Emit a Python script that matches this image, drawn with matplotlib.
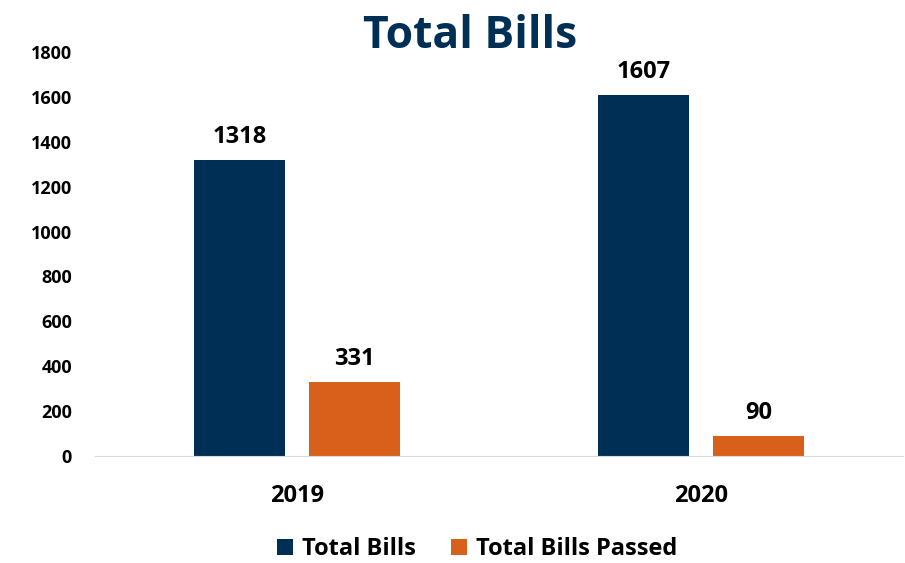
import numpy as np
import matplotlib.pyplot as plt

# Chart data
years = ["2019", "2020"]
total_bills = [1318, 1607]
bills_passed = [331, 90]

navy = "#002F56"
orange = "#D9601A"

plt.rcParams["font.family"] = ["Open Sans", "DejaVu Sans"]

fig = plt.figure(figsize=(9.05, 5.63), dpi=100)
ax = fig.add_axes([0.105, 0.19, 0.893, 0.7176])

x = np.arange(len(years))
w = 0.225
off = 0.143

b1 = ax.bar(x - off, total_bills, w, color=navy, label="Total Bills")
b2 = ax.bar(x + off, bills_passed, w, color=orange, label="Total Bills Passed")

for bars in (b1, b2):
    for rect in bars:
        h = rect.get_height()
        ax.annotate(str(int(h)), (rect.get_x() + rect.get_width() / 2, h),
                    xytext=(0, 8), textcoords="offset points",
                    ha="center", va="bottom", fontsize=17, fontweight="bold")

ax.set_xlim(-0.5, 1.5)
ax.set_ylim(0, 1800)
ax.set_yticks(range(0, 1801, 200))
ax.set_xticks(x)
ax.set_xticklabels(years, fontsize=17, fontweight="bold")
for lbl in ax.get_yticklabels():
    lbl.set_fontweight("bold")
    lbl.set_fontsize(13)

for s in ("top", "right", "left"):
    ax.spines[s].set_visible(False)
ax.spines["bottom"].set_color("#D9D9D9")
ax.tick_params(axis="both", length=0)
ax.tick_params(axis="x", pad=20)
ax.tick_params(axis="y", pad=16.5)

fig.text(0.52, 0.935, "Total Bills", ha="center", va="center",
         fontsize=32, fontweight="bold", color=navy)

leg = fig.legend(handles=[b1, b2], loc="center", bbox_to_anchor=(0.527, 0.025),
                 ncol=2, frameon=False, prop={"weight": "bold", "size": 17},
                 handlelength=0.68, handleheight=0.68, handletextpad=0.38,
                 columnspacing=1.5)

fig.savefig("out.png", dpi=100)
